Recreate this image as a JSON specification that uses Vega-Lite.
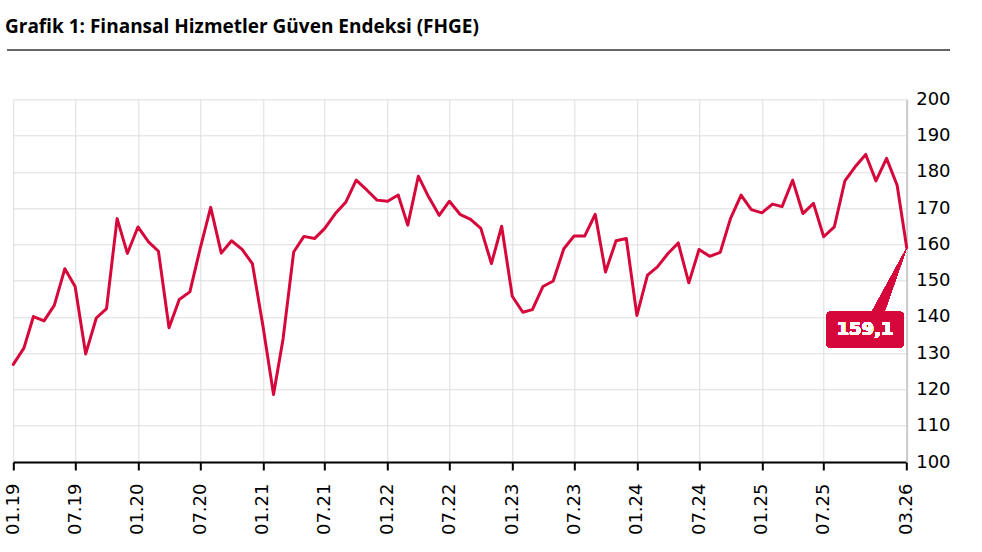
{
  "$schema": "https://vega.github.io/schema/vega-lite/v6.json",
  "autosize": {"type": "none"},
  "padding": {"left": 13.3, "top": 99.3, "right": 75.3, "bottom": 90},
  "width": 893.4,
  "height": 362.7,
  "background": "white",
  "title": {
    "text": "Grafik 1: Finansal Hizmetler Güven Endeksi (FHGE)",
    "anchor": "start",
    "frame": "group",
    "font": "Open Sans",
    "fontSize": 19,
    "fontWeight": "bold",
    "color": "#000000",
    "baseline": "alphabetic",
    "dx": -8.3,
    "offset": -2.5
  },
  "config": {
    "view": {"stroke": null},
    "axis": {
      "labelFont": "DejaVu Sans",
      "labelFontSize": 18,
      "labelColor": "#000000",
      "gridColor": "#dddddd",
      "gridWidth": 1,
      "title": null
    }
  },
  "data": {
    "values": [
      {"date": "2019-01-01", "value": 126.9},
      {"date": "2019-02-01", "value": 131.4},
      {"date": "2019-03-01", "value": 140.1},
      {"date": "2019-04-01", "value": 138.9},
      {"date": "2019-05-01", "value": 143.2},
      {"date": "2019-06-01", "value": 153.3},
      {"date": "2019-07-01", "value": 148.4},
      {"date": "2019-08-01", "value": 129.8},
      {"date": "2019-09-01", "value": 139.7},
      {"date": "2019-10-01", "value": 142.3},
      {"date": "2019-11-01", "value": 167.1},
      {"date": "2019-12-01", "value": 157.5},
      {"date": "2020-01-01", "value": 164.8},
      {"date": "2020-02-01", "value": 160.7},
      {"date": "2020-03-01", "value": 158.1},
      {"date": "2020-04-01", "value": 137.0},
      {"date": "2020-05-01", "value": 144.8},
      {"date": "2020-06-01", "value": 146.9},
      {"date": "2020-07-01", "value": 158.8},
      {"date": "2020-08-01", "value": 170.2},
      {"date": "2020-09-01", "value": 157.6},
      {"date": "2020-10-01", "value": 161.0},
      {"date": "2020-11-01", "value": 158.6},
      {"date": "2020-12-01", "value": 154.7},
      {"date": "2021-01-01", "value": 137.5},
      {"date": "2021-02-01", "value": 118.6},
      {"date": "2021-03-01", "value": 134.0},
      {"date": "2021-04-01", "value": 157.9},
      {"date": "2021-05-01", "value": 162.2},
      {"date": "2021-06-01", "value": 161.6},
      {"date": "2021-07-01", "value": 164.4},
      {"date": "2021-08-01", "value": 168.5},
      {"date": "2021-09-01", "value": 171.7},
      {"date": "2021-10-01", "value": 177.7},
      {"date": "2021-11-01", "value": 175.0},
      {"date": "2021-12-01", "value": 172.2},
      {"date": "2022-01-01", "value": 171.9},
      {"date": "2022-02-01", "value": 173.6},
      {"date": "2022-03-01", "value": 165.3},
      {"date": "2022-04-01", "value": 178.8},
      {"date": "2022-05-01", "value": 173.1},
      {"date": "2022-06-01", "value": 168.0},
      {"date": "2022-07-01", "value": 171.9},
      {"date": "2022-08-01", "value": 168.3},
      {"date": "2022-09-01", "value": 166.9},
      {"date": "2022-10-01", "value": 164.4},
      {"date": "2022-11-01", "value": 154.7},
      {"date": "2022-12-01", "value": 165.0},
      {"date": "2023-01-01", "value": 145.7},
      {"date": "2023-02-01", "value": 141.3},
      {"date": "2023-03-01", "value": 142.0},
      {"date": "2023-04-01", "value": 148.4},
      {"date": "2023-05-01", "value": 149.9},
      {"date": "2023-06-01", "value": 158.8},
      {"date": "2023-07-01", "value": 162.3},
      {"date": "2023-08-01", "value": 162.3},
      {"date": "2023-09-01", "value": 168.3},
      {"date": "2023-10-01", "value": 152.4},
      {"date": "2023-11-01", "value": 161.0},
      {"date": "2023-12-01", "value": 161.6},
      {"date": "2024-01-01", "value": 140.4},
      {"date": "2024-02-01", "value": 151.5},
      {"date": "2024-03-01", "value": 153.8},
      {"date": "2024-04-01", "value": 157.5},
      {"date": "2024-05-01", "value": 160.4},
      {"date": "2024-06-01", "value": 149.4},
      {"date": "2024-07-01", "value": 158.6},
      {"date": "2024-08-01", "value": 156.7},
      {"date": "2024-09-01", "value": 157.8},
      {"date": "2024-10-01", "value": 167.1},
      {"date": "2024-11-01", "value": 173.6},
      {"date": "2024-12-01", "value": 169.6},
      {"date": "2025-01-01", "value": 168.7},
      {"date": "2025-02-01", "value": 171.1},
      {"date": "2025-03-01", "value": 170.4},
      {"date": "2025-04-01", "value": 177.7},
      {"date": "2025-05-01", "value": 168.5},
      {"date": "2025-06-01", "value": 171.3},
      {"date": "2025-07-01", "value": 162.1},
      {"date": "2025-08-01", "value": 164.8},
      {"date": "2025-09-01", "value": 177.5},
      {"date": "2025-10-01", "value": 181.4},
      {"date": "2025-11-01", "value": 184.8},
      {"date": "2025-12-01", "value": 177.5},
      {"date": "2026-01-01", "value": 183.7},
      {"date": "2026-02-01", "value": 176.3},
      {"date": "2026-03-01", "value": 159.1}
    ]
  },
  "layer": [
    {
      "mark": {"type": "line", "color": "#d6083b", "strokeWidth": 3, "strokeJoin": "round", "strokeCap": "round"},
      "encoding": {
        "x": {
          "field": "date",
          "type": "temporal",
          "scale": {"type": "utc", "domain": [{"year": 2019, "month": 1, "date": 1, "utc": true}, {"year": 2026, "month": 3, "date": 1, "utc": true}], "nice": false},
          "axis": {
            "values": [
              {"year": 2019, "month": 1, "date": 1, "utc": true},
              {"year": 2019, "month": 7, "date": 1, "utc": true},
              {"year": 2020, "month": 1, "date": 1, "utc": true},
              {"year": 2020, "month": 7, "date": 1, "utc": true},
              {"year": 2021, "month": 1, "date": 1, "utc": true},
              {"year": 2021, "month": 7, "date": 1, "utc": true},
              {"year": 2022, "month": 1, "date": 1, "utc": true},
              {"year": 2022, "month": 7, "date": 1, "utc": true},
              {"year": 2023, "month": 1, "date": 1, "utc": true},
              {"year": 2023, "month": 7, "date": 1, "utc": true},
              {"year": 2024, "month": 1, "date": 1, "utc": true},
              {"year": 2024, "month": 7, "date": 1, "utc": true},
              {"year": 2025, "month": 1, "date": 1, "utc": true},
              {"year": 2025, "month": 7, "date": 1, "utc": true},
              {"year": 2026, "month": 3, "date": 1, "utc": true}
            ],
            "tickCount": 30,
            "format": "%m.%y",
            "labelAngle": -90,
            "labelPadding": 13,
            "labelFlush": false,
            "labelOverlap": false,
            "labelBound": false,
            "tickSize": 8,
            "tickWidth": 2,
            "tickColor": "#000000",
            "domainColor": "#000000",
            "domainWidth": 2
          }
        },
        "y": {
          "field": "value",
          "type": "quantitative",
          "scale": {"domain": [100, 200], "nice": false, "zero": false},
          "axis": {
            "orient": "right",
            "values": [100, 110, 120, 130, 140, 150, 160, 170, 180, 190, 200],
            "tickCount": 20,
            "ticks": false,
            "labelOverlap": false,
            "labelPadding": 9,
            "domainColor": "#cccccc",
            "domainWidth": 2
          }
        }
      }
    },
    {
      "mark": {"type": "rule", "color": "#666666", "strokeWidth": 1.5},
      "encoding": {
        "x": {"datum": {"year": 2018, "month": 12, "date": 16, "utc": true}, "type": "temporal"},
        "x2": {"datum": {"year": 2026, "month": 7, "date": 3, "utc": true}},
        "y": {"datum": 213.6, "type": "quantitative"}
      }
    },
    {
      "mark": {"type": "point", "filled": true, "opacity": 1, "color": "#d6083b", "strokeWidth": 0, "shape": "M 0 0 L -0.53 0.97 L -0.34 0.97 Z", "size": 19600},
      "encoding": {
        "x": {"datum": {"year": 2026, "month": 3, "date": 1, "utc": true}, "type": "temporal"},
        "y": {"datum": 159.0, "type": "quantitative"}
      }
    },
    {
      "mark": {"type": "rect", "color": "#d6083b", "cornerRadius": 3},
      "encoding": {
        "x": {"datum": {"year": 2025, "month": 7, "date": 10, "utc": true}, "type": "temporal"},
        "x2": {"datum": {"year": 2026, "month": 2, "date": 19, "utc": true}},
        "y": {"datum": 141.4, "type": "quantitative"},
        "y2": {"datum": 131.6}
      }
    },
    {
      "mark": {"type": "text", "text": "159,1", "fill": "#ffffff", "strokeWidth": 0, "font": "DejaVu Sans", "fontSize": 18, "fontWeight": "bold", "align": "center", "baseline": "alphabetic"},
      "encoding": {
        "x": {"datum": {"year": 2025, "month": 10, "date": 30, "utc": true}, "type": "temporal"},
        "y": {"datum": 135.0, "type": "quantitative"}
      }
    }
  ]
}
